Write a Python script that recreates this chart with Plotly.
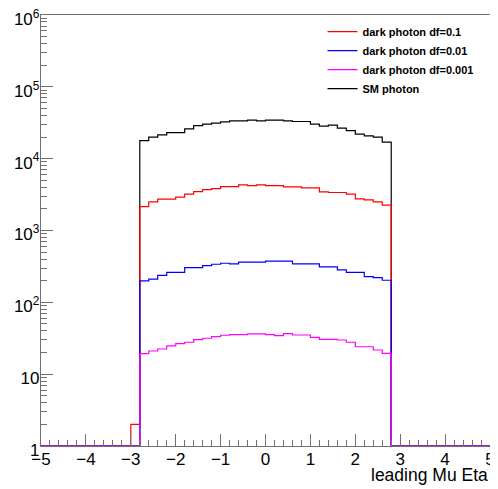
import numpy as np
import plotly.graph_objects as go

# Histogram binning: 50 bins of width 0.2 from -5 to 5
x_min, x_max, n_bins = -5.0, 5.0, 50
# Non-empty bins start at eta = -3.0 (bin index 10)
first_bin = 10

red_counts = [2, 2150, 2500, 2730, 2730, 2910, 3200, 3480, 3710, 3830, 4090, 4090, 4320, 4220, 4320,
              4220, 4220, 4050, 4050, 3920, 3920, 3450, 3380, 3380, 3200, 2760, 2670, 2500, 2250]
blue_counts = [0, 199, 210, 238, 262, 262, 305, 305, 325, 339, 350, 343, 362, 362, 362,
               374, 374, 374, 343, 343, 343, 311, 311, 283, 262, 262, 228, 221, 203]
magenta_counts = [0, 19.3, 21.0, 22.4, 24.7, 26.6, 27.8, 30.3, 31.6, 33.3, 34.8, 35.5, 35.5, 36.3, 36.3,
                  35.5, 34.4, 36.7, 35.1, 35.1, 32.6, 30.6, 30.6, 29.9, 27.8, 24.1, 24.1, 21.7, 19.5]
black_counts = [0, 17870, 19920, 21430, 23100, 23100, 26000, 28900, 30200, 31200, 32500, 33600, 33600, 34400, 33600,
                34400, 34400, 33600, 32900, 32900, 30200, 28300, 29300, 26600, 24600, 21900, 20800, 19900, 17000]

names = ["dark photon df=0.1", "dark photon df=0.01", "dark photon df=0.001", "SM photon"]
colors = ["#ff0000", "#0000ff", "#ff00ff", "#000000"]

y_tick_vals = [1, 10, 100, 1e3, 1e4, 1e5, 1e6]
y_tick_text = ["1", "10", "10<sup>2</sup>", "10<sup>3</sup>", "10<sup>4</sup>", "10<sup>5</sup>", "10<sup>6</sup>"]

edges = np.linspace(x_min, x_max, n_bins + 1)
y_floor = 1.0  # axis minimum; empty bins are drawn on the frame bottom like ROOT


def full_hist(vals):
    h = np.zeros(n_bins)
    h[first_bin:first_bin + len(vals)] = vals
    h = np.where(h > 0, h, y_floor)
    return np.append(h, h[-1])


series = [red_counts, blue_counts, magenta_counts, black_counts]

fig = go.Figure()
# draw order: black first, then red, blue, magenta on top
draw_order = [3, 0, 1, 2]
for i in draw_order:
    fig.add_trace(go.Scatter(
        x=edges, y=full_hist(series[i]), mode="lines", line_shape="hv",
        line=dict(color=colors[i], width=1.2),
        name="<b>" + names[i] + "</b>", legendrank=i + 1,
    ))

axis_col = "#707070"
font_fam = "Liberation Sans, Arial, sans-serif"

minor_y = [k * 10 ** d for d in range(0, 6) for k in range(2, 10)]
fig.update_xaxes(
    range=[x_min, x_max], showgrid=False, zeroline=False, automargin=False,
    showline=True, linecolor=axis_col, linewidth=1.3, mirror=True,
    ticks="inside", ticklen=12, tickcolor=axis_col, tickwidth=1,
    dtick=1, tick0=0, ticklabeloverflow="allow", ticklabelstandoff=-3,
    minor=dict(ticks="inside", ticklen=6, dtick=0.2, tickcolor=axis_col, showgrid=False),
    tickfont=dict(family=font_fam, size=17, color="#000"),
)
fig.update_yaxes(
    type="log", range=[0, 6], showgrid=False, zeroline=False, automargin=False,
    showline=True, linecolor=axis_col, linewidth=1.3, mirror=True,
    ticks="inside", ticklen=12, tickcolor=axis_col, tickwidth=1,
    tickvals=y_tick_vals, ticktext=y_tick_text, ticklabeloverflow="allow",
    ticklabelstandoff=-3, ticklabelshift=4,
    minor=dict(ticks="inside", ticklen=6, tickvals=minor_y, tickcolor=axis_col, showgrid=False),
    tickfont=dict(family=font_fam, size=17, color="#000"),
)

fig.add_annotation(
    text="leading Mu Eta", xref="paper", yref="paper", x=1.0, y=0, yshift=-41,
    xanchor="right", yanchor="bottom", showarrow=False,
    font=dict(family=font_fam, size=17.5, color="#000"),
)

# page body adds an 8px offset; figure sized so the plot frame lands where the reference has it
fig.update_layout(
    width=490, height=481,
    margin=dict(l=33, r=8, t=7, b=43),
    paper_bgcolor="white", plot_bgcolor="white",
    showlegend=True,
    legend=dict(x=0.627, y=0.995, xanchor="left", yanchor="top",
                font=dict(family=font_fam, size=11, color="#000"),
                bgcolor="rgba(0,0,0,0)", itemwidth=30, tracegroupgap=0),
)

fig.write_html("out.html")
